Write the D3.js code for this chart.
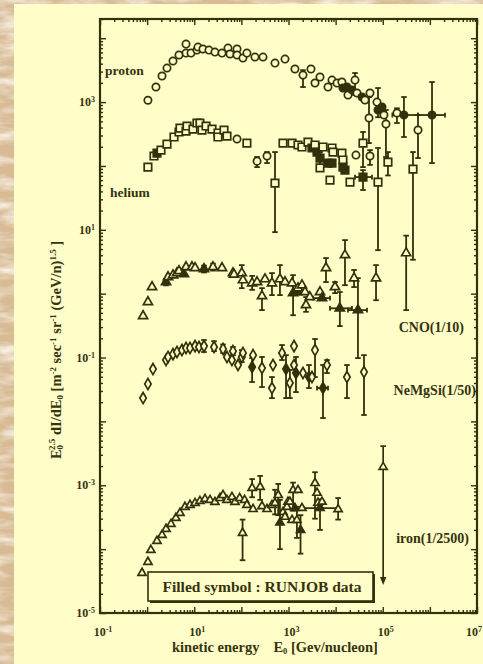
<!DOCTYPE html>
<html>
<head>
<meta charset="utf-8">
<script src="https://cdnjs.cloudflare.com/ajax/libs/d3/7.8.5/d3.min.js"></script>
<style>
  html, body { margin: 0; padding: 0; background: #dcc29c; }
  svg { display: block; }
  text { font-family: "Liberation Serif", "Times New Roman", serif; font-weight: bold; fill: #35320e; }
</style>
</head>
<body>
<svg id="chart" width="483" height="664"></svg>
<script>
// Axis tick labels (decades that carry a label)
const xLabelTicks = [1e-1, 1e1, 1e3, 1e5, 1e7];
const yLabelTicks = [1e-5, 1e-3, 1e-1, 1e1, 1e3];

// Energy per nucleon e [GeV/n], scaled flux f, optional error range lo/hi,
// optional energy bin xlo/xhi, fill: RUNJOB point, s: symbol override
const proton = [
  {e:1.04,f:1070},{e:1.54,f:1720},{e:2.07,f:2560},{e:2.64,f:3410},{e:3.54,f:4390},
  {e:4.75,f:5450},{e:6.69,f:5850},{e:6.69,f:8090},{e:8.53,f:5850},{e:11.4,f:6520},
  {e:12.0,f:7270},{e:15.3,f:6770},{e:20.5,f:6520},{e:27.5,f:6070},{e:38.8,f:5850},
  {e:52.0,f:7010},{e:57.4,f:5650},{e:80.8,f:6770},{e:80.8,f:5450},{e:108,f:4890},
  {e:131,f:5850},{e:194,f:5070},{e:288,f:5070},{e:517,f:4080},{e:843,f:4710},
  {e:1370,f:3290},{e:2030,f:2650,lo:1720,hi:3160},{e:3000,f:3290},{e:3650,f:1990},
  {e:4660,f:2470},{e:6890,f:1720},{e:8380,f:2210},{e:10700,f:1990},{e:13600,f:2060},
  {e:14300,f:1660,fill:1},{e:17400,f:1720,fill:1},{e:18300,f:1290},{e:22200,f:1550,fill:1},
  {e:25800,f:2210,lo:1290,hi:2850},{e:28400,f:1390},{e:36300,f:1200,fill:1},{e:42000,f:1080},
  {e:53600,f:1390},{e:51100,f:563,lo:228,hi:1200},{e:75500,f:1000},
  {e:79300,f:751,fill:1,lo:580,hi:1660},{e:96400,f:836,fill:1},{e:106000,f:627},
  {e:117000,f:453,lo:138,hi:751},{e:200000,f:674,lo:470,hi:800},
  {e:282000,f:627,fill:1,lo:284,hi:1200,xlo:160000,xhi:560000},
  {e:560000,f:365,lo:133,hi:627},
  {e:1.11e6,f:627,fill:1,lo:111,hi:2060,xlo:560000,xhi:2.09e6}
];

const helium = [
  {e:1.04,f:96},{e:1.40,f:143},{e:1.62,f:159,fill:1},{e:1.97,f:177},{e:2.64,f:220},
  {e:3.72,f:284},{e:4.75,f:340},{e:4.98,f:392},{e:6.69,f:352},{e:7.02,f:422},
  {e:9.40,f:378},{e:11.4,f:470},{e:13.2,f:470},{e:14.6,f:365},{e:17.8,f:422},
  {e:23.8,f:378},{e:31.9,f:328},{e:31.9,f:284},{e:42.8,f:365},{e:49.5,f:294},
  {e:80.8,f:264,s:"c"},{e:131,f:228},{e:215,f:119,s:"c",lo:96,hi:138},
  {e:350,f:143,s:"c",lo:111,hi:165},{e:517,f:54,lo:9.2,hi:165},{e:764,f:228},
  {e:1190,f:228},{e:1590,f:213},{e:1930,f:198},{e:2590,f:236},{e:3150,f:191,fill:1},
  {e:3650,f:213},{e:4030,f:165,fill:1},{e:4660,f:133,fill:1,lo:104,hi:165},{e:4660,f:93},
  {e:5390,f:198},{e:6890,f:111,fill:1},{e:8380,f:111,fill:1},{e:7600,f:60},{e:8380,f:191},
  {e:8800,f:165},{e:13600,f:159},{e:14300,f:124},{e:14300,f:96,fill:1},{e:15800,f:86,fill:1},
  {e:20200,f:56},{e:27000,f:148,s:"c"},{e:38100,f:228,lo:96,hi:340},
  {e:38100,f:67,fill:1,lo:42,hi:86,xlo:25800,xhi:59100},
  {e:53600,f:143,s:"c",lo:104,hi:177},{e:79300,f:56,lo:4.8,hi:191},
  {e:129000,f:115,lo:71,hi:165},{e:438000,f:89,lo:3.4,hi:165}
];

const cno = [
  {e:0.82,f:0.447},{e:1.04,f:0.74},{e:1.27,f:1.27},{e:2.52,f:1.52,fill:1,lo:1.35,hi:1.7},
  {e:2.78,f:1.82},{e:3.54,f:1.95},{e:4.30,f:2.1},{e:4.75,f:2.26},{e:6.04,f:2.03,fill:1},
  {e:6.69,f:2.61},{e:8.96,f:2.61},{e:10.4,f:2.52},{e:16.1,f:2.43,fill:1,lo:2.15,hi:2.75},
  {e:25.0,f:2.61,lo:2.3,hi:2.95},{e:38.8,f:2.52},{e:66.3,f:2.1},{e:69.8,f:2.0},
  {e:102,f:2.1,lo:1.22,hi:2.8},{e:108,f:1.63},{e:169,f:1.46,lo:1.15,hi:1.9},{e:215,f:1.52},
  {e:274,f:0.917,lo:0.553,hi:1.22},{e:317,f:1.69},{e:446,f:1.46,lo:0.95,hi:2.1},
  {e:659,f:1.69,lo:0.95,hi:2.8},{e:843,f:1.52},{e:1190,f:1.46},
  {e:1250,f:1.02,fill:1,lo:0.46,hi:1.95},{e:1510,f:1.06,fill:1},{e:1590,f:1.22},
  {e:1930,f:1.36},{e:2240,f:1.06},{e:2350,f:0.663,lo:0.52,hi:0.885},{e:2840,f:0.885},
  {e:4660,f:1.06},{e:5140,f:0.853,fill:1,xlo:3310,xhi:7600},
  {e:6250,f:2.52,lo:1.52,hi:3.61},{e:9700,f:1.27,lo:1.02,hi:1.52},
  {e:12300,f:0.59,fill:1,lo:0.311,hi:1.06,xlo:7600,xhi:22200},
  {e:15800,f:4.02,lo:1.36,hi:6.9},{e:24600,f:1.75,lo:1.27,hi:2.35},
  {e:29800,f:0.553,fill:1,lo:0.098,hi:1.75,xlo:18300,xhi:46300},
  {e:72000,f:1.75,lo:0.79,hi:2.8},{e:314000,f:4.32,lo:0.553,hi:8.1}
];

const neMgSi = [
  {e:0.82,f:0.0232},{e:1.04,f:0.0385},{e:1.33,f:0.066},{e:2.52,f:0.0914},{e:2.78,f:0.102},
  {e:3.54,f:0.113},{e:4.30,f:0.122},{e:5.48,f:0.131},{e:6.69,f:0.141},{e:8.12,f:0.141},
  {e:10.4,f:0.151},{e:12.6,f:0.146},{e:16.1,f:0.151,lo:0.122,hi:0.188},
  {e:26.3,f:0.146,lo:0.126,hi:0.18},{e:40.8,f:0.136,lo:0.118,hi:0.16},{e:49.5,f:0.102},
  {e:66.3,f:0.126,lo:0.109,hi:0.146},{e:63.0,f:0.0914},{e:84.8,f:0.0763},
  {e:102,f:0.102,lo:0.085,hi:0.131},{e:108,f:0.118},{e:169,f:0.071,fill:1,lo:0.0414,hi:0.098},
  {e:177,f:0.109},{e:274,f:0.0685,lo:0.0345,hi:0.102},{e:469,f:0.0763},
  {e:446,f:0.0333,lo:0.0232,hi:0.0495},{e:728,f:0.118,lo:0.0914,hi:0.157},
  {e:886,f:0.066,fill:1,lo:0.0232,hi:0.109},{e:1070,f:0.040,lo:0.0232,hi:0.064},
  {e:1310,f:0.151},{e:1310,f:0.0763},{e:1440,f:0.0572,fill:1,lo:0.0288,hi:0.102},
  {e:2030,f:0.0572},{e:2720,f:0.0495,fill:1,lo:0.0333,hi:0.0763},{e:3150,f:0.0495},
  {e:3650,f:0.131,lo:0.0495,hi:0.195},
  {e:5390,f:0.0333,fill:1,lo:0.0113,hi:0.0763,xlo:4030,xhi:6890},
  {e:6560,f:0.0763,lo:0.0572,hi:0.0914},{e:17400,f:0.0495,lo:0.0232,hi:0.0763},
  {e:40000,f:0.0593,lo:0.0126,hi:0.109}
];

const iron = [
  {e:0.78,f:4.23e-5},{e:1.04,f:6.29e-5},{e:1.20,f:9.69e-5},{e:1.62,f:1.34e-4},
  {e:2.07,f:1.66e-4},{e:2.52,f:2.07e-4},{e:3.21,f:2.47e-4},{e:4.09,f:3.07e-4},
  {e:4.98,f:3.68e-4},{e:6.35,f:4.57e-4},{e:8.12,f:4.91e-4},{e:10.4,f:5.27e-4},
  {e:13.2,f:5.66e-4},{e:16.9,f:6.08e-4},{e:21.6,f:5.87e-4},{e:27.5,f:5.46e-4},
  {e:35.1,f:6.29e-4},{e:40.8,f:7.01e-4},{e:49.5,f:5.87e-4},{e:63.2,f:6.53e-4},
  {e:73.2,f:5.46e-4},{e:92.0,f:6.29e-4},{e:117,f:5.87e-4},
  {e:106,f:1.79e-4,lo:6.7e-5,hi:2.9e-4},{e:131,f:4.91e-4},
  {e:169,f:9.06e-4,lo:6.5e-4,hi:1.25e-3},{e:177,f:4.23e-4},
  {e:250,f:9.4e-4,lo:5.9e-4,hi:1.4e-3},{e:274,f:4.7e-4},{e:350,f:4.23e-4},{e:446,f:4.9e-4},
  {e:517,f:5.27e-4,lo:3.5e-4,hi:8.5e-4},{e:605,f:7.0e-4,lo:3.4e-4,hi:1.05e-3},
  {e:659,f:2.6e-4,fill:1,lo:1.0e-4,hi:5.9e-4},{e:764,f:3.8e-4},{e:843,f:3.2e-4},
  {e:928,f:4.57e-4},{e:975,f:5.5e-4},{e:1070,f:5.5e-4},{e:1190,f:2.85e-4},
  {e:1250,f:8.4e-4,lo:4e-4,hi:1.1e-3},{e:1370,f:4.4e-4,fill:1},
  {e:1510,f:2.85e-4,lo:1.5e-4,hi:4.6e-4},{e:1590,f:8.4e-4},
  {e:1800,f:1.99e-4,fill:1,lo:8.5e-5,hi:3.4e-4},{e:1930,f:4.4e-4},
  {e:3650,f:1.08e-3,lo:3e-4,hi:1.6e-3},{e:4030,f:7.6e-4},{e:4220,f:5.3e-4},
  {e:4660,f:4.4e-4,fill:1,lo:2e-4,hi:6e-4,xlo:1930,xhi:11300},{e:5140,f:5.5e-4},
  {e:11300,f:4.2e-4,lo:2.9e-4,hi:6.3e-4}
];

// Upper limit drawn as a downward arrow
const ironLimit = [{e:102000,f:1.93e-3,hi:4.1e-3,lo:2.74e-5}];

const seriesLabels = [
  {text:"proton", x:105, y:75, anchor:"start", size:13.5},
  {text:"helium", x:110, y:197, anchor:"start", size:13.5},
  {text:"CNO(1/10)", x:464, y:332, anchor:"end", size:14},
  {text:"NeMgSi(1/50)", x:476, y:395, anchor:"end", size:14},
  {text:"iron(1/2500)", x:469, y:543, anchor:"end", size:14}
];

const ink = "#33300c";
const paper = "#fffec8";
const svg = d3.select("#chart");
const W = 483, H = 664;
const plotL = 100, plotR = 477, plotT = 19, plotB = 613;

// Page backdrop: marbled board with a pale yellow sheet on top
const defs = svg.append("defs");
const mf = defs.append("filter").attr("id", "marble").attr("x", 0).attr("y", 0).attr("width", 1).attr("height", 1);
mf.append("feTurbulence").attr("type", "fractalNoise").attr("baseFrequency", "0.025 0.09").attr("numOctaves", 4).attr("seed", 7);
mf.append("feColorMatrix").attr("type", "matrix")
  .attr("values", "0 0 0 0 0.97  0 0 0 0 0.93  0 0 0 0 0.86  2.2 0 0 0 -0.9");
svg.append("rect").attr("width", W).attr("height", H).attr("fill", "#d8bb95");
svg.append("rect").attr("width", W).attr("height", H).attr("filter", "url(#marble)");
svg.append("rect").attr("x", 14).attr("y", 4).attr("width", W - 14).attr("height", H - 4).attr("fill", paper);

const x = d3.scaleLog().domain([1e-1, 1e7]).range([plotL, plotR]);
const y = d3.scaleLog().domain([1e-5, 2e4]).range([plotB, plotT]);

// Log tick positions
function decadeTicks(lo, hi) { const t = []; for (let k = lo; k <= hi; k++) t.push(Math.pow(10, k)); return t; }
function minorTicks(lo, hi) {
  const t = [];
  for (let k = lo; k < hi; k++) for (let m = 2; m <= 9; m++) t.push(m * Math.pow(10, k));
  return t;
}
const xMajor = decadeTicks(-1, 7), xMinor = minorTicks(-1, 7);
const yMajor = decadeTicks(-5, 4), yMinor = minorTicks(-5, 5).filter(v => v <= 2e4);

const axes = svg.append("g").attr("class", "axes");
function drawAxis(gen, transform, vals, size) {
  const g = axes.append("g").attr("transform", transform)
    .call(gen.tickValues(vals).tickSize(size).tickFormat(""));
  g.select(".domain").remove();
  g.selectAll(".tick line").attr("stroke", ink).attr("stroke-width", 1.4);
}
[[xMajor, -6], [xMinor, -3]].forEach(([v, s]) => {
  drawAxis(d3.axisBottom(x), `translate(0,${plotB})`, v, s);
  drawAxis(d3.axisTop(x), `translate(0,${plotT})`, v, s);
});
[[yMajor, -6], [yMinor, -3]].forEach(([v, s]) => {
  drawAxis(d3.axisLeft(y), `translate(${plotL},0)`, v, s);
  drawAxis(d3.axisRight(y), `translate(${plotR},0)`, v, s);
});
axes.append("rect").attr("x", plotL).attr("y", plotT).attr("width", plotR - plotL).attr("height", plotB - plotT)
  .attr("fill", "none").attr("stroke", ink).attr("stroke-width", 2.2);

// Tick labels as 10 with a superscript exponent
function powerLabel(sel, v) {
  const p = Math.round(Math.log10(v));
  sel.append("tspan").text("10");
  sel.append("tspan").attr("font-size", 8).attr("baseline-shift", "55%").text(String(p));
}
xLabelTicks.forEach((v, i) => {
  const last = i === xLabelTicks.length - 1;
  const t = svg.append("text").attr("x", last ? 482 : x(v) + 3).attr("y", 636)
    .attr("text-anchor", last ? "end" : "middle").attr("font-size", 12);
  powerLabel(t, v);
});
yLabelTicks.forEach(v => {
  const t = svg.append("text").attr("x", 95).attr("y", y(v) + 4).attr("text-anchor", "end").attr("font-size", 12);
  powerLabel(t, v);
});

// Axis titles
const xt = svg.append("text").attr("x", 172).attr("y", 652).attr("font-size", 14.5);
xt.append("tspan").text("kinetic energy");
xt.append("tspan").attr("dx", 14).text("E");
xt.append("tspan").attr("font-size", 8.5).attr("baseline-shift", "-25%").text("0");
xt.append("tspan").text(" [Gev/nucleon]");

const yt = svg.append("text").attr("transform", "translate(61,350) rotate(-90)")
  .attr("text-anchor", "middle").attr("font-size", 14.5);
yt.append("tspan").text("E");
yt.append("tspan").attr("font-size", 9).attr("baseline-shift", "-25%").text("0");
yt.append("tspan").attr("font-size", 9).attr("dx", -5).attr("baseline-shift", "70%").text("2.5");
yt.append("tspan").text(" dI/dE");
yt.append("tspan").attr("font-size", 9).attr("baseline-shift", "-25%").text("0");
yt.append("tspan").text(" [m");
yt.append("tspan").attr("font-size", 9).attr("baseline-shift", "60%").text("-2");
yt.append("tspan").text(" sec");
yt.append("tspan").attr("font-size", 9).attr("baseline-shift", "60%").text("-1");
yt.append("tspan").text(" sr");
yt.append("tspan").attr("font-size", 9).attr("baseline-shift", "60%").text("-1");
yt.append("tspan").text(" (GeV/n)");
yt.append("tspan").attr("font-size", 9).attr("baseline-shift", "60%").text("1.5");
yt.append("tspan").text(" ]");

// Series labels
seriesLabels.forEach(l => {
  svg.append("text").attr("x", l.x).attr("y", l.y).attr("text-anchor", l.anchor)
    .attr("font-size", l.size).text(l.text);
});

// Data marks
const symbolTypes = { c: d3.symbolCircle, s: d3.symbolSquare, t: d3.symbolTriangle, d: d3.symbolDiamond };
const symbolSizes = { c: 42, s: 56, t: 36, d: 36 };
const plot = svg.append("g");

function drawSeries(data, shape, scaleSize) {
  const g = plot.append("g");
  const cap = 2.8;
  data.forEach(d => {
    const cx = x(d.e), cy = y(d.f);
    if (d.lo !== undefined) {
      const y1 = y(d.hi), y2 = y(d.lo);
      g.append("line").attr("x1", cx).attr("x2", cx).attr("y1", y1).attr("y2", y2)
        .attr("stroke", ink).attr("stroke-width", 1.8);
      [y1, y2].forEach(yy => g.append("line").attr("x1", cx - cap).attr("x2", cx + cap)
        .attr("y1", yy).attr("y2", yy).attr("stroke", ink).attr("stroke-width", 1.8));
    }
    if (d.xlo !== undefined) {
      const x1 = x(d.xlo), x2 = x(d.xhi);
      g.append("line").attr("x1", x1).attr("x2", x2).attr("y1", cy).attr("y2", cy)
        .attr("stroke", ink).attr("stroke-width", 1.8);
      [x1, x2].forEach(xx => g.append("line").attr("x1", xx).attr("x2", xx)
        .attr("y1", cy - 2.4).attr("y2", cy + 2.4).attr("stroke", ink).attr("stroke-width", 1.8));
    }
  });
  data.forEach(d => {
    const s = d.s || shape;
    g.append("path")
      .attr("d", d3.symbol().type(symbolTypes[s]).size(symbolSizes[s] * (scaleSize || 1))())
      .attr("transform", `translate(${x(d.e)},${y(d.f)})`)
      .attr("fill", d.fill ? ink : paper)
      .attr("stroke", ink).attr("stroke-width", 1.7);
  });
}
drawSeries(proton, "c");
drawSeries(helium, "s");
drawSeries(cno, "t");
drawSeries(neMgSi, "d");
drawSeries(iron, "t", 0.8);

// Iron upper limit with arrowhead
ironLimit.forEach(d => {
  const cx = x(d.e), y1 = y(d.hi), y2 = y(d.lo);
  plot.append("line").attr("x1", cx).attr("x2", cx).attr("y1", y1).attr("y2", y2 - 4)
    .attr("stroke", ink).attr("stroke-width", 1.7);
  plot.append("line").attr("x1", cx - 2.8).attr("x2", cx + 2.8).attr("y1", y1).attr("y2", y1)
    .attr("stroke", ink).attr("stroke-width", 1.7);
  plot.append("path").attr("d", `M${cx - 3.2},${y2 - 8}L${cx + 3.2},${y2 - 8}L${cx},${y2}Z`).attr("fill", ink);
  plot.append("path").attr("d", d3.symbol().type(d3.symbolTriangle).size(29)())
    .attr("transform", `translate(${cx},${y(d.f)})`).attr("fill", paper)
    .attr("stroke", ink).attr("stroke-width", 1.6);
});

// Legend note box
const lg = svg.append("g");
lg.append("rect").attr("x", 150).attr("y", 574).attr("width", 225).attr("height", 29).attr("fill", ink);
lg.append("rect").attr("x", 148).attr("y", 572).attr("width", 225).attr("height", 29)
  .attr("fill", paper).attr("stroke", ink).attr("stroke-width", 1.6);
lg.append("text").attr("x", 262).attr("y", 592).attr("text-anchor", "middle").attr("font-size", 15.5)
  .text("Filled symbol : RUNJOB data");
</script>
</body>
</html>
